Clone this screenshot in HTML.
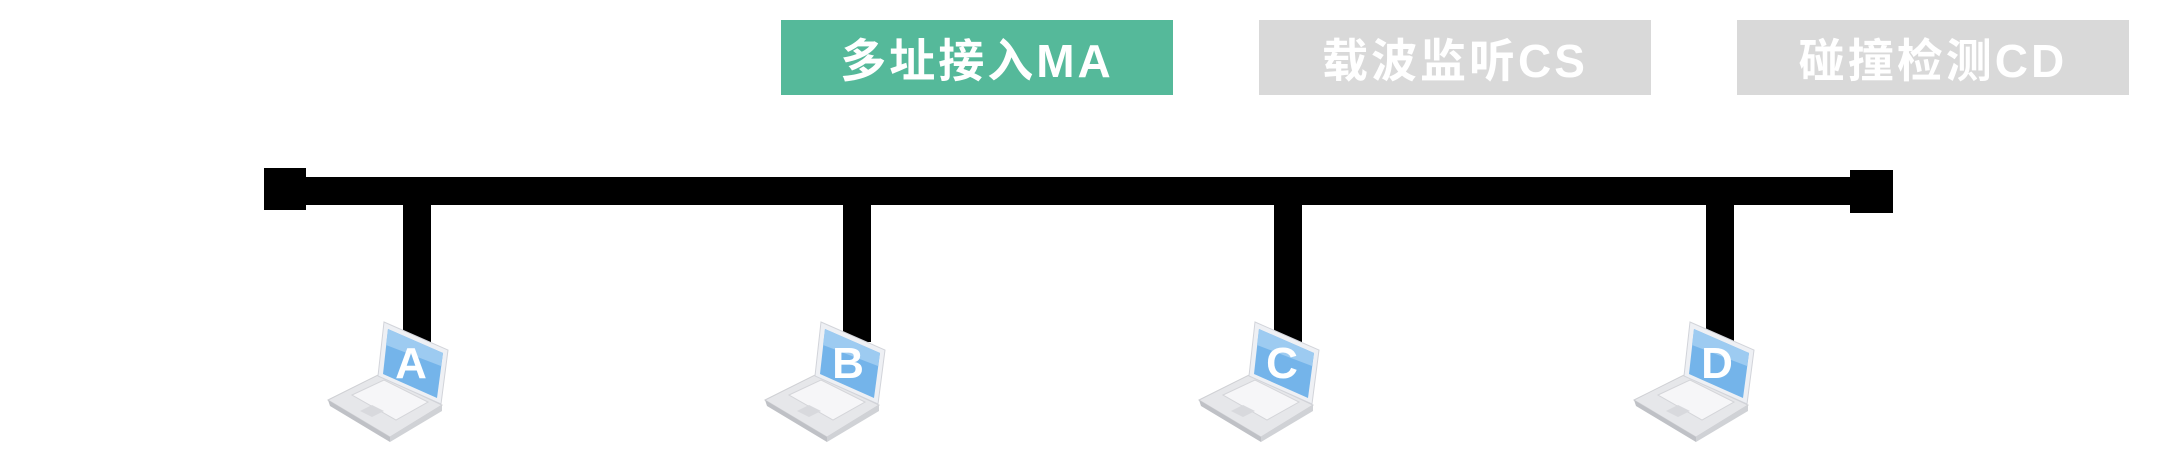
<!DOCTYPE html>
<html><head><meta charset="utf-8"><style>
html,body{margin:0;padding:0;background:#fff;}
body{width:2178px;height:456px;position:relative;overflow:hidden;}
.box{position:absolute;top:20px;height:75px;width:392px;display:flex;align-items:center;justify-content:center;color:#fff;font-family:"Liberation Sans","Noto Sans CJK SC",sans-serif;font-weight:bold;font-size:46px;letter-spacing:3px;}
</style></head><body>
<div class="box" style="left:781px;background:#55b99a;">多址接入MA</div>
<div class="box" style="left:1259px;background:#d9d9d9;">载波监听CS</div>
<div class="box" style="left:1737px;background:#d9d9d9;">碰撞检测CD</div>
<svg width="2178" height="456" style="position:absolute;left:0;top:0">
<defs>
<g id="lap">
<polygon points="328,400 378,375 442,405 390,437" fill="#e6e7ea" stroke="#cfd0d4" stroke-width="1"/>
<polygon points="328,400 390,437 390,442 330,406" fill="#bfc1c6"/>
<polygon points="390,437 442,405 442,411 390,442" fill="#d0d2d6"/>
<polygon points="352,395 384,380 428,402 396,420" fill="#f6f6f8" stroke="#d4d5d9"/>
<polygon points="360,411 372,405 384,411 372,417" fill="#d8d9dd"/>
<polygon points="384,322 448,350 441,404 378,376" fill="#eef0f4" stroke="#d2d4da"/>
<polygon points="388,329 443,353 437,398 383,374" fill="#74b4ea"/>
<polygon points="388,329 443,353 441,366 386,345" fill="#9dcbf1"/>
</g>
</defs>
<rect x="264" y="177" width="1628" height="28" fill="#000"/>
<rect x="264" y="168" width="42" height="42" fill="#000"/>
<rect x="1850" y="170" width="43" height="43" fill="#000"/>
<rect x="403" y="200" width="28" height="142" fill="#000"/>
<rect x="843" y="200" width="28" height="142" fill="#000"/>
<rect x="1274" y="200" width="28" height="142" fill="#000"/>
<rect x="1706" y="200" width="28" height="142" fill="#000"/>
<g font-family="Liberation Sans, sans-serif" font-weight="bold" font-size="44" fill="#fff" text-anchor="middle">
<g><use href="#lap"/><text x="411" y="378">A</text></g>
<g transform="translate(437,0)"><use href="#lap"/><text x="411" y="378">B</text></g>
<g transform="translate(871,0)"><use href="#lap"/><text x="411" y="378">C</text></g>
<g transform="translate(1306,0)"><use href="#lap"/><text x="411" y="378">D</text></g>
</g>
</svg>
</body></html>
